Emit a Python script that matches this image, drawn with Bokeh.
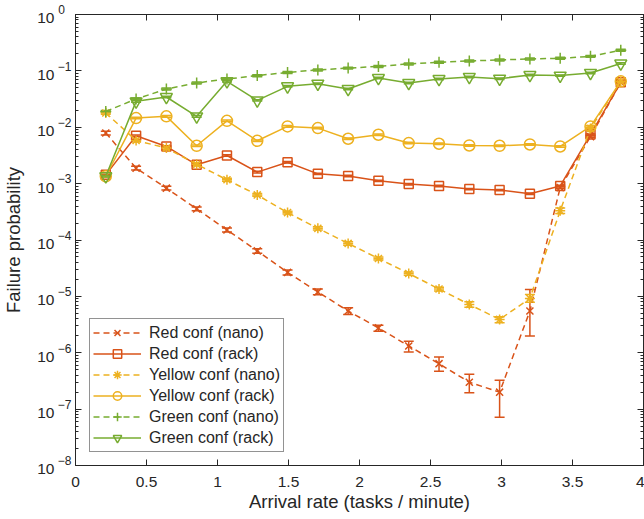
from bokeh.plotting import figure
from bokeh.models import (LogAxis, LinearAxis, FixedTicker, CustomJSTickFormatter, Whisker,
                          TeeHead, ColumnDataSource, Legend, LegendItem, Range1d)
from bokeh.embed import file_html
from bokeh.resources import INLINE

# ---------------- data ----------------
arrival = [0.2133, 0.4267, 0.64, 0.8533, 1.0667, 1.28, 1.4933, 1.7067, 1.92,
           2.1333, 2.3467, 2.56, 2.7733, 2.9867, 3.2, 3.4133, 3.6267, 3.84]

red_nano = [7.9e-3, 1.88e-3, 8.3e-4, 3.56e-4, 1.51e-4, 6.4e-5, 2.66e-5, 1.2e-5, 5.5e-6,
            2.76e-6, 1.32e-6, 6.4e-7, 3.0e-7, 2.0e-7, 5.5e-6, 8.5e-4, 6.8e-3, 6.3e-2]
red_nano_lo = [7.3e-3, 1.74e-3, 7.7e-4, 3.3e-4, 1.39e-4, 5.8e-5, 2.4e-5, 1.07e-5, 4.77e-6,
               2.41e-6, 1.03e-6, 4.7e-7, 1.96e-7, 7.2e-8, 1.99e-6, 8.2e-4, 6.6e-3, 6.2e-2]
red_nano_hi = [8.5e-3, 2.03e-3, 9.0e-4, 3.85e-4, 1.63e-4, 7.0e-5, 2.95e-5, 1.35e-5, 6.26e-6,
               3.08e-6, 1.6e-6, 8.4e-7, 4.15e-7, 3.24e-7, 1.33e-5, 8.8e-4, 7.0e-3, 6.4e-2]

red_rack = [1.43e-3, 7.06e-3, 4.56e-3, 2.16e-3, 3.15e-3, 1.6e-3, 2.4e-3, 1.49e-3, 1.37e-3,
            1.12e-3, 9.8e-4, 9.1e-4, 8.0e-4, 7.7e-4, 6.6e-4, 9.1e-4, 7.4e-3, 6.26e-2]
red_rack_lo = [1.39e-3, 6.85e-3, 4.43e-3, 2.1e-3, 3.06e-3, 1.55e-3, 2.33e-3, 1.45e-3, 1.33e-3,
               1.09e-3, 9.5e-4, 8.8e-4, 7.8e-4, 7.5e-4, 6.4e-4, 8.8e-4, 7.2e-3, 6.1e-2]
red_rack_hi = [1.47e-3, 7.27e-3, 4.7e-3, 2.22e-3, 3.24e-3, 1.65e-3, 2.47e-3, 1.53e-3, 1.41e-3,
               1.15e-3, 1.01e-3, 9.4e-4, 8.2e-4, 7.9e-4, 6.8e-4, 9.4e-4, 7.6e-3, 6.4e-2]

yellow_nano = [1.79e-2, 5.83e-3, 4.27e-3, 2.2e-3, 1.17e-3, 6.3e-4, 3.06e-4, 1.61e-4, 8.7e-5,
               4.7e-5, 2.55e-5, 1.35e-5, 7.2e-6, 3.9e-6, 9.2e-6, 3.3e-4, 9.5e-3, 6.5e-2]
yellow_nano_lo = [1.7e-2, 5.5e-3, 4.05e-3, 2.08e-3, 1.1e-3, 5.95e-4, 2.88e-4, 1.51e-4, 8.1e-5,
                  4.4e-5, 2.38e-5, 1.25e-5, 6.4e-6, 3.39e-6, 7.9e-6, 2.95e-4, 9.1e-3, 6.3e-2]
yellow_nano_hi = [1.88e-2, 6.15e-3, 4.5e-3, 2.32e-3, 1.24e-3, 6.65e-4, 3.25e-4, 1.71e-4, 9.3e-5,
                  5.0e-5, 2.72e-5, 1.45e-5, 8.0e-6, 4.33e-6, 1.08e-5, 3.7e-4, 9.9e-3, 6.7e-2]

yellow_rack = [1.35e-3, 1.456e-2, 1.56e-2, 4.69e-3, 1.3e-2, 5.75e-3, 1.035e-2, 9.66e-3, 6.25e-3,
               7.36e-3, 5.24e-3, 5.1e-3, 4.75e-3, 4.69e-3, 4.95e-3, 4.56e-3, 1.035e-2, 6.53e-2]
yellow_rack_lo = [1.31e-3, 1.41e-2, 1.51e-2, 4.55e-3, 1.26e-2, 5.58e-3, 1.0e-2, 9.37e-3, 6.06e-3,
                  7.14e-3, 5.08e-3, 4.95e-3, 4.61e-3, 4.55e-3, 4.8e-3, 4.42e-3, 1.0e-2, 6.33e-2]
yellow_rack_hi = [1.39e-3, 1.5e-2, 1.61e-2, 4.83e-3, 1.34e-2, 5.92e-3, 1.07e-2, 9.95e-3, 6.44e-3,
                  7.58e-3, 5.4e-3, 5.25e-3, 4.89e-3, 4.83e-3, 5.1e-3, 4.7e-3, 1.07e-2, 6.73e-2]

green_nano = [1.91e-2, 3.17e-2, 4.77e-2, 6.1e-2, 7.18e-2, 8.24e-2, 9.4e-2, 0.104, 0.112,
              0.120, 0.133, 0.142, 0.150, 0.156, 0.163, 0.167, 0.181, 0.232]
green_nano_lo = [1.83e-2, 3.04e-2, 4.58e-2, 5.86e-2, 6.9e-2, 7.9e-2, 9.02e-2, 0.0998, 0.1075,
                 0.1152, 0.1277, 0.1363, 0.144, 0.1498, 0.1565, 0.1603, 0.1738, 0.2227]
green_nano_hi = [1.99e-2, 3.3e-2, 4.96e-2, 6.34e-2, 7.47e-2, 8.57e-2, 9.78e-2, 0.1082, 0.1165,
                 0.1248, 0.1383, 0.1477, 0.156, 0.1622, 0.1695, 0.1737, 0.1882, 0.2413]

green_rack = [1.35e-3, 2.88e-2, 3.44e-2, 1.56e-2, 6.53e-2, 3.0e-2, 5.32e-2, 5.93e-2, 4.77e-2,
              7.48e-2, 6.1e-2, 7.18e-2, 7.8e-2, 7.28e-2, 8.46e-2, 8.24e-2, 9.2e-2, 0.135]
green_rack_lo = [1.31e-3, 2.79e-2, 3.34e-2, 1.51e-2, 6.33e-2, 2.91e-2, 5.16e-2, 5.75e-2, 4.63e-2,
                 7.26e-2, 5.92e-2, 6.96e-2, 7.57e-2, 7.06e-2, 8.21e-2, 7.99e-2, 8.92e-2, 0.131]
green_rack_hi = [1.39e-3, 2.97e-2, 3.54e-2, 1.61e-2, 6.73e-2, 3.09e-2, 5.48e-2, 6.11e-2, 4.91e-2,
                 7.7e-2, 6.28e-2, 7.4e-2, 8.03e-2, 7.5e-2, 8.71e-2, 8.49e-2, 9.48e-2, 0.139]

labels = ["Red conf (nano)", "Red conf (rack)", "Yellow conf (nano)",
          "Yellow conf (rack)", "Green conf (nano)", "Green conf (rack)"]
x_ticks = [0, 0.5, 1, 1.5, 2, 2.5, 3, 3.5, 4]
y_ticks = [1e-8, 1e-7, 1e-6, 1e-5, 1e-4, 1e-3, 1e-2, 1e-1, 1e0]
x_title = "Arrival rate (tasks / minute)"
y_title = "Failure probability"

RED, YEL, GRN = "#D95319", "#EDB120", "#77AC30"
TXT = "#262626"
FONT = "Liberation Sans"

series = [
    (red_nano, red_nano_lo, red_nano_hi, RED, "6 4", "x", 10),
    (red_rack, red_rack_lo, red_rack_hi, RED, "solid", "square", 9),
    (yellow_nano, yellow_nano_lo, yellow_nano_hi, YEL, "6 4", "asterisk", 10),
    (yellow_rack, yellow_rack_lo, yellow_rack_hi, YEL, "solid", "circle", 11),
    (green_nano, green_nano_lo, green_nano_hi, GRN, "6 4", "cross", 11),
    (green_rack, green_rack_lo, green_rack_hi, GRN, "solid", "inverted_triangle", 12),
]

# ---------------- figure ----------------
p = figure(width=644, height=519, y_axis_type="log",
           x_range=Range1d(0, 4), y_range=Range1d(1e-8, 1),
           output_backend="svg", toolbar_location=None,
           min_border_left=72, min_border_right=1, min_border_top=14, min_border_bottom=54)
p.xgrid.visible = False
p.ygrid.visible = False
p.background_fill_color = "white"
p.border_fill_color = "white"
p.outline_line_color = TXT
p.outline_line_width = 1

minor = []
for d in y_ticks[:-1]:
    for m in range(2, 10):
        minor.append(d * m)
yticker = FixedTicker(ticks=y_ticks, minor_ticks=minor)
yticker_major = FixedTicker(ticks=y_ticks, minor_ticks=[])
xticker = FixedTicker(ticks=x_ticks, minor_ticks=[])
blank = CustomJSTickFormatter(code="return '';")

def style_axis(ax, ticker):
    ax.ticker = ticker
    ax.axis_line_color = TXT
    ax.major_tick_line_color = TXT
    ax.minor_tick_line_color = TXT
    ax.major_tick_in = 6
    ax.major_tick_out = 0
    ax.minor_tick_in = 3
    ax.minor_tick_out = 0
    ax.major_label_text_font = FONT
    ax.major_label_text_color = TXT
    ax.major_label_text_font_size = "15.5px"
    ax.axis_label_text_font = FONT
    ax.axis_label_text_color = TXT
    ax.axis_label_text_font_size = "18.5px"
    ax.axis_label_text_font_style = "normal"

xa = p.xaxis[0]
style_axis(xa, xticker)
xa.formatter = CustomJSTickFormatter(code="return tick.toString();")
xa.major_label_standoff = 11
xa.axis_label = x_title
xa.axis_label_standoff = 1

# inner y axis: ticks + raised exponents
ya = p.yaxis[0]
style_axis(ya, yticker)
ya.formatter = CustomJSTickFormatter(code="""
const e = Math.round(Math.log10(tick));
const s = e < 0 ? '\\u2212' + String(-e) : String(e) + '\\u2007';
return s + '\\n\\u2007';
""")
ya.major_label_standoff = 4
ya.major_label_text_font_size = "12px"
ya.major_label_text_line_height = 0.6

# outer y axis: the "10" bases (slightly lowered) + axis title
yb = LogAxis()
style_axis(yb, yticker_major)
yb.formatter = CustomJSTickFormatter(code="return '\\u2007\\n10';")
yb.major_label_text_line_height = 0.4
yb.axis_line_color = None
yb.major_tick_line_color = None
yb.minor_tick_line_color = None
yb.major_label_standoff = 0
yb.axis_label = y_title
yb.axis_label_standoff = 10
p.add_layout(yb, "left")

top = LinearAxis()
style_axis(top, xticker)
top.formatter = blank
top.major_label_standoff = 0
top.major_label_text_font_size = "0px"
p.add_layout(top, "above")
right = LogAxis()
style_axis(right, yticker)
right.formatter = blank
right.major_label_standoff = 0
right.major_label_text_font_size = "0px"
p.add_layout(right, "right")

items = []
for (vals, lo, hi, col, dash, mk, sz), lab in zip(series, labels):
    src = ColumnDataSource(dict(x=arrival, y=vals, lo=lo, hi=hi))
    w = Whisker(base="x", upper="hi", lower="lo", source=src, dimension="height",
                line_color=col, line_width=1.5,
                upper_head=TeeHead(size=10, line_color=col, line_width=1.5),
                lower_head=TeeHead(size=10, line_color=col, line_width=1.5))
    p.add_layout(w)
    lr = p.line("x", "y", source=src, line_color=col, line_width=1.5, line_dash=dash)
    sr = p.scatter("x", "y", source=src, marker=mk, size=sz, line_color=col,
                   line_width=1.5, fill_color=None)
    items.append(LegendItem(label=lab, renderers=[lr, sr]))

legend = Legend(items=items, location=(14, 13))
legend.label_text_font = FONT
legend.label_text_font_size = "16px"
legend.label_text_color = TXT
legend.glyph_width = 48
legend.glyph_height = 21
legend.label_height = 21
legend.spacing = 0
legend.padding = 3
legend.label_standoff = 8
legend.margin = 0
legend.border_line_color = TXT
legend.border_line_width = 1
legend.background_fill_color = "white"
legend.background_fill_alpha = 1
p.add_layout(legend, "center")

open("out.html", "w").write(file_html(p, INLINE))
